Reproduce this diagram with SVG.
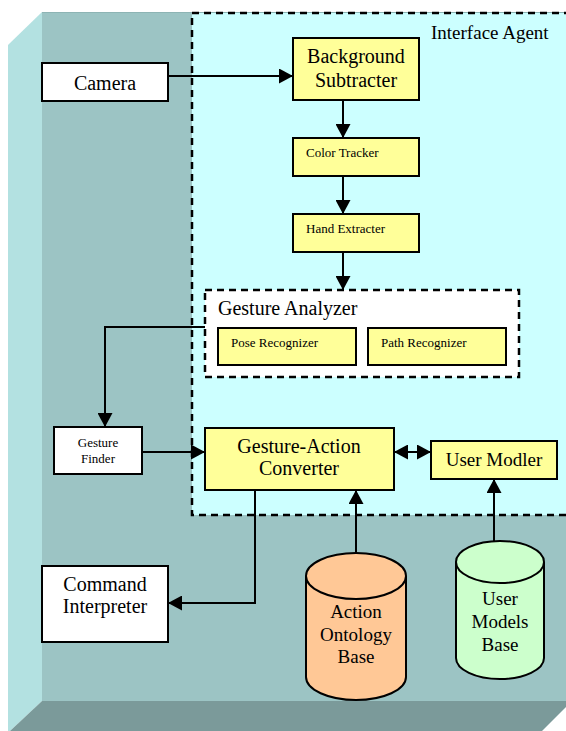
<svg xmlns="http://www.w3.org/2000/svg" width="566" height="731" viewBox="0 0 566 731" font-family="'Liberation Serif', 'DejaVu Serif', serif">
<style>
text{font-family:'Liberation Serif','DejaVu Serif',serif;fill:#000}
.box{stroke:#000;stroke-width:2}
.y{fill:#ffff99}
.w{fill:#fff}
.big{font-size:20px}
.sm{font-size:13px}
.c{text-anchor:middle}
.con{fill:none;stroke:#000;stroke-width:2}
.dash{fill:none;stroke:#000;stroke-width:2.5;stroke-dasharray:7 5}
</style>
<defs>
<marker id="ah" markerUnits="userSpaceOnUse" markerWidth="15" markerHeight="15" refX="14" refY="7.5" orient="auto-start-reverse">
<path d="M0,0 L14,7.5 L0,15 z" fill="#000"/>
</marker>
</defs>
<g id="background">
<rect x="42" y="12" width="524" height="690" fill="#9cc4c4"/>
<line x1="42" y1="12.5" x2="566" y2="12.5" stroke="#8db4b4" stroke-width="1"/>
<polygon points="8,45 42,12 42,701 10,731 8,731" fill="#b3e1e1"/>
<polygon points="10,731 42,701 572,701 542,731" fill="#7b9a9a"/>
</g>
<g id="interface-agent">
<rect x="192" y="13" width="380" height="502" fill="#ccffff"/>
<rect x="192" y="13" width="380" height="502" class="dash"/>
<text x="431" y="39" font-size="19">Interface Agent</text>
</g>
<g id="camera">
<rect x="42" y="63" width="126" height="38" class="box w"/>
<text x="105" y="90" class="big c">Camera</text>
</g>
<g id="background-subtracter">
<rect x="293" y="38" width="126" height="62" class="box y"/>
<text x="356" y="63" class="big c">Background</text>
<text x="356" y="87" class="big c">Subtracter</text>
</g>
<g id="color-tracker">
<rect x="293" y="138" width="126" height="38" class="box y"/>
<text x="306" y="157" class="sm">Color Tracker</text>
</g>
<g id="hand-extracter">
<rect x="293" y="214" width="126" height="38" class="box y"/>
<text x="306" y="233" class="sm">Hand Extracter</text>
</g>
<g id="gesture-analyzer">
<rect x="205" y="290" width="314" height="87" fill="#fff"/>
<rect x="205" y="290" width="314" height="87" class="dash"/>
<text x="218" y="315" class="big">Gesture Analyzer</text>
</g>
<g id="pose-recognizer">
<rect x="218" y="328" width="138" height="37" class="box y"/>
<text x="231" y="347" class="sm">Pose Recognizer</text>
</g>
<g id="path-recognizer">
<rect x="368" y="328" width="138" height="37" class="box y"/>
<text x="381" y="347" class="sm">Path Recognizer</text>
</g>
<g id="gesture-finder">
<rect x="54" y="427" width="88" height="47" class="box w"/>
<text x="98" y="447" class="sm c">Gesture</text>
<text x="98" y="463" class="sm c">Finder</text>
</g>
<g id="gesture-action-converter">
<rect x="205" y="428" width="189" height="62" class="box y"/>
<text x="299" y="453" class="big c">Gesture-Action</text>
<text x="299" y="475" class="big c">Converter</text>
</g>
<g id="user-modler">
<rect x="431" y="441" width="126" height="38" class="box y"/>
<text x="494" y="466" font-size="19" class="c">User Modler</text>
</g>
<g id="command-interpreter">
<rect x="42" y="566" width="126" height="76" class="box w"/>
<text x="105" y="591" class="big c">Command</text>
<text x="105" y="613" class="big c">Interpreter</text>
</g>
<g id="action-ontology-base">
<path d="M306,576 L306,677 A50,23 0 0 0 406,677 L406,576" fill="#ffc896" stroke="#000" stroke-width="2"/>
<ellipse cx="356" cy="576" rx="50" ry="23" fill="#ffc896" stroke="#000" stroke-width="2"/>
<text x="356" y="618" font-size="19" class="c">Action</text>
<text x="356" y="641" font-size="19" class="c">Ontology</text>
<text x="356" y="663" font-size="19" class="c">Base</text>
</g>
<g id="user-models-base">
<path d="M456,562 L456,658 A44,21 0 0 0 544,658 L544,562" fill="#ccffcc" stroke="#000" stroke-width="2"/>
<ellipse cx="500" cy="562" rx="44" ry="21" fill="#ccffcc" stroke="#000" stroke-width="2"/>
<text x="500" y="605" font-size="19" class="c">User</text>
<text x="500" y="628" font-size="19" class="c">Models</text>
<text x="500" y="651" font-size="19" class="c">Base</text>
</g>
<g id="connectors">
<line x1="168" y1="76" x2="293" y2="76" class="con" marker-end="url(#ah)"/>
<line x1="343" y1="100" x2="343" y2="138" class="con" marker-end="url(#ah)"/>
<line x1="343" y1="176" x2="343" y2="214" class="con" marker-end="url(#ah)"/>
<line x1="343" y1="252" x2="343" y2="290" class="con" marker-end="url(#ah)"/>
<polyline points="205,327 105,327 105,427" class="con" marker-end="url(#ah)"/>
<line x1="142" y1="452" x2="205" y2="452" class="con" marker-end="url(#ah)"/>
<line x1="394" y1="452" x2="431" y2="452" class="con" marker-start="url(#ah)" marker-end="url(#ah)"/>
<polyline points="255,490 255,603 168,603" class="con" marker-end="url(#ah)"/>
<line x1="356" y1="553" x2="356" y2="490" class="con" marker-end="url(#ah)"/>
<line x1="494" y1="541" x2="494" y2="479" class="con" marker-end="url(#ah)"/>
</g>
</svg>
